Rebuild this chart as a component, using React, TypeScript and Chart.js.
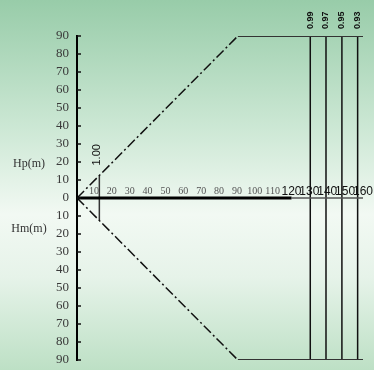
import React, { useEffect, useRef } from "react";
import { Chart, registerables } from "chart.js";

Chart.register(...registerables);

// ---- data ----
const xMax = 160;
const hMax = 90;
const rampEndX = 90; // where the dash-dot boundary reaches full height
const boldAxisEnd = 120;
const xTickValues = [10, 20, 30, 40, 50, 60, 70, 80, 90, 100, 110, 120, 130, 140, 150, 160];
const effLabels = ["1.00", "0.99", "0.97", "0.95", "0.93"];
const effX = [12.5, 130.5, 139.3, 148.2, 157];
const effHalfHeight = [12.5, 90, 90, 90, 90];
const upperRampX = [0, rampEndX];
const upperRampY = [0, hMax];
const upperFlatX = [rampEndX, xMax];
const upperFlatY = [hMax, hMax];
const lowerRampY = [0, -hMax];
const lowerFlatY = [-hMax, -hMax];
const axisBoldX = [0, boldAxisEnd];
const axisThinX = [boldAxisEnd, xMax];

const pts = (xs: number[], ys: number[]) => xs.map((x, i) => ({ x, y: ys[i] }));

const overlayPlugin = {
  id: "overlay",
  afterDatasetsDraw(chart: any) {
    const { ctx, chartArea, scales } = chart;
    const xs = scales.x;
    const ys = scales.y;
    ctx.save();
    // y tick marks (inside, to the right of the axis)
    ctx.strokeStyle = "#111";
    ctx.lineWidth = 1.5;
    ys.ticks.forEach((t: any) => {
      const py = ys.getPixelForValue(t.value);
      ctx.beginPath();
      ctx.moveTo(chartArea.left, py);
      ctx.lineTo(chartArea.left + 4, py);
      ctx.stroke();
    });
    // x tick labels above the zero line
    const y0 = ys.getPixelForValue(0);
    ctx.textAlign = "center";
    ctx.textBaseline = "alphabetic";
    xTickValues.forEach((v) => {
      const px = xs.getPixelForValue(v);
      if (v <= 110) {
        ctx.font = "10px 'Liberation Serif', serif";
        ctx.fillStyle = "#555";
        ctx.fillText(String(v), px - 1, y0 - 4);
      } else {
        ctx.font = "12px 'Liberation Sans', sans-serif";
        ctx.fillStyle = "#111";
        ctx.fillText(String(v), px, y0 - 3);
      }
    });
    // efficiency labels (rotated)
    effLabels.forEach((lab, i) => {
      const px = xs.getPixelForValue(effX[i]);
      const top = ys.getPixelForValue(effHalfHeight[i]);
      const small = i > 0;
      ctx.save();
      ctx.translate(px + (small ? 0 : -2), top - (small ? 7 : 10));
      ctx.rotate(-Math.PI / 2);
      ctx.font = small ? "bold 9px 'Liberation Sans', sans-serif" : "11px 'Liberation Sans', sans-serif";
      ctx.fillStyle = "#111";
      ctx.textAlign = "left";
      ctx.textBaseline = "middle";
      ctx.fillText(lab, 0, 0);
      ctx.restore();
    });
    // axis titles
    ctx.font = "12px 'Liberation Serif', serif";
    ctx.fillStyle = "#333";
    ctx.textAlign = "center";
    ctx.textBaseline = "middle";
    ctx.fillText("Hp(m)", 29, ys.getPixelForValue(19));
    ctx.fillText("Hm(m)", 29, ys.getPixelForValue(-17));
    ctx.restore();
  },
};

export default function App() {
  const ref = useRef<HTMLCanvasElement | null>(null);
  useEffect(() => {
    if (!ref.current) return;
    const line = (data: any[], color: string, width: number, dash: number[] = []) => ({
      data,
      showLine: true,
      borderColor: color,
      borderWidth: width,
      borderDash: dash,
      pointRadius: 0,
      pointHoverRadius: 0,
      fill: false,
    });
    const datasets: any[] = [
      line(pts(axisBoldX, [0, 0]), "#000", 3),
      line(pts(axisThinX, [0, 0]), "#555", 1.5),
      line(pts(upperRampX, upperRampY), "#111", 1.5, [10, 3, 2, 3]),
      line(pts(upperRampX, lowerRampY), "#111", 1.5, [10, 3, 2, 3]),
      line(pts(upperFlatX, upperFlatY), "#333", 2),
      line(pts(upperFlatX, lowerFlatY), "#333", 2),
      ...effX.map((x, i) => line(pts([x, x], [effHalfHeight[i], -effHalfHeight[i]]), i === 0 ? "#333" : "#111", 1.5)),
    ];
    const chart = new Chart(ref.current, {
      type: "scatter",
      data: { datasets },
      options: {
        animation: false,
        responsive: false,
        layout: { padding: { top: 36, right: 11, bottom: 10, left: 0 } },
        plugins: { legend: { display: false }, tooltip: { enabled: false } },
        scales: {
          x: { type: "linear", min: 0, max: xMax, display: false },
          y: {
            type: "linear",
            min: -hMax,
            max: hMax,
            afterFit: (s: any) => {
              s.width = 77;
              s.paddingTop = 0;
              s.paddingBottom = 0;
            },
            grid: { display: false, drawTicks: false },
            border: { display: true, color: "#000", width: 2 },
            ticks: {
              stepSize: 10,
              autoSkip: false,
              padding: 8,
              color: "#3a3a3a",
              font: { family: "'Liberation Serif', serif", size: 13 },
              callback: (v: any) => String(Math.abs(Number(v))),
            },
          },
        },
      },
      plugins: [overlayPlugin],
    });
    return () => chart.destroy();
  }, []);
  return (
    <div
      style={{
        position: "fixed",
        left: 0,
        top: 0,
        width: 374,
        height: 370,
        background:
          "linear-gradient(to bottom, #98cca9 0%, #cde8d5 35%, #f2f9f3 58%, #e6f3e9 75%, #bde0c5 100%)",
      }}
    >
      <canvas ref={ref} width={374} height={370} style={{ display: "block" }} />
    </div>
  );
}
